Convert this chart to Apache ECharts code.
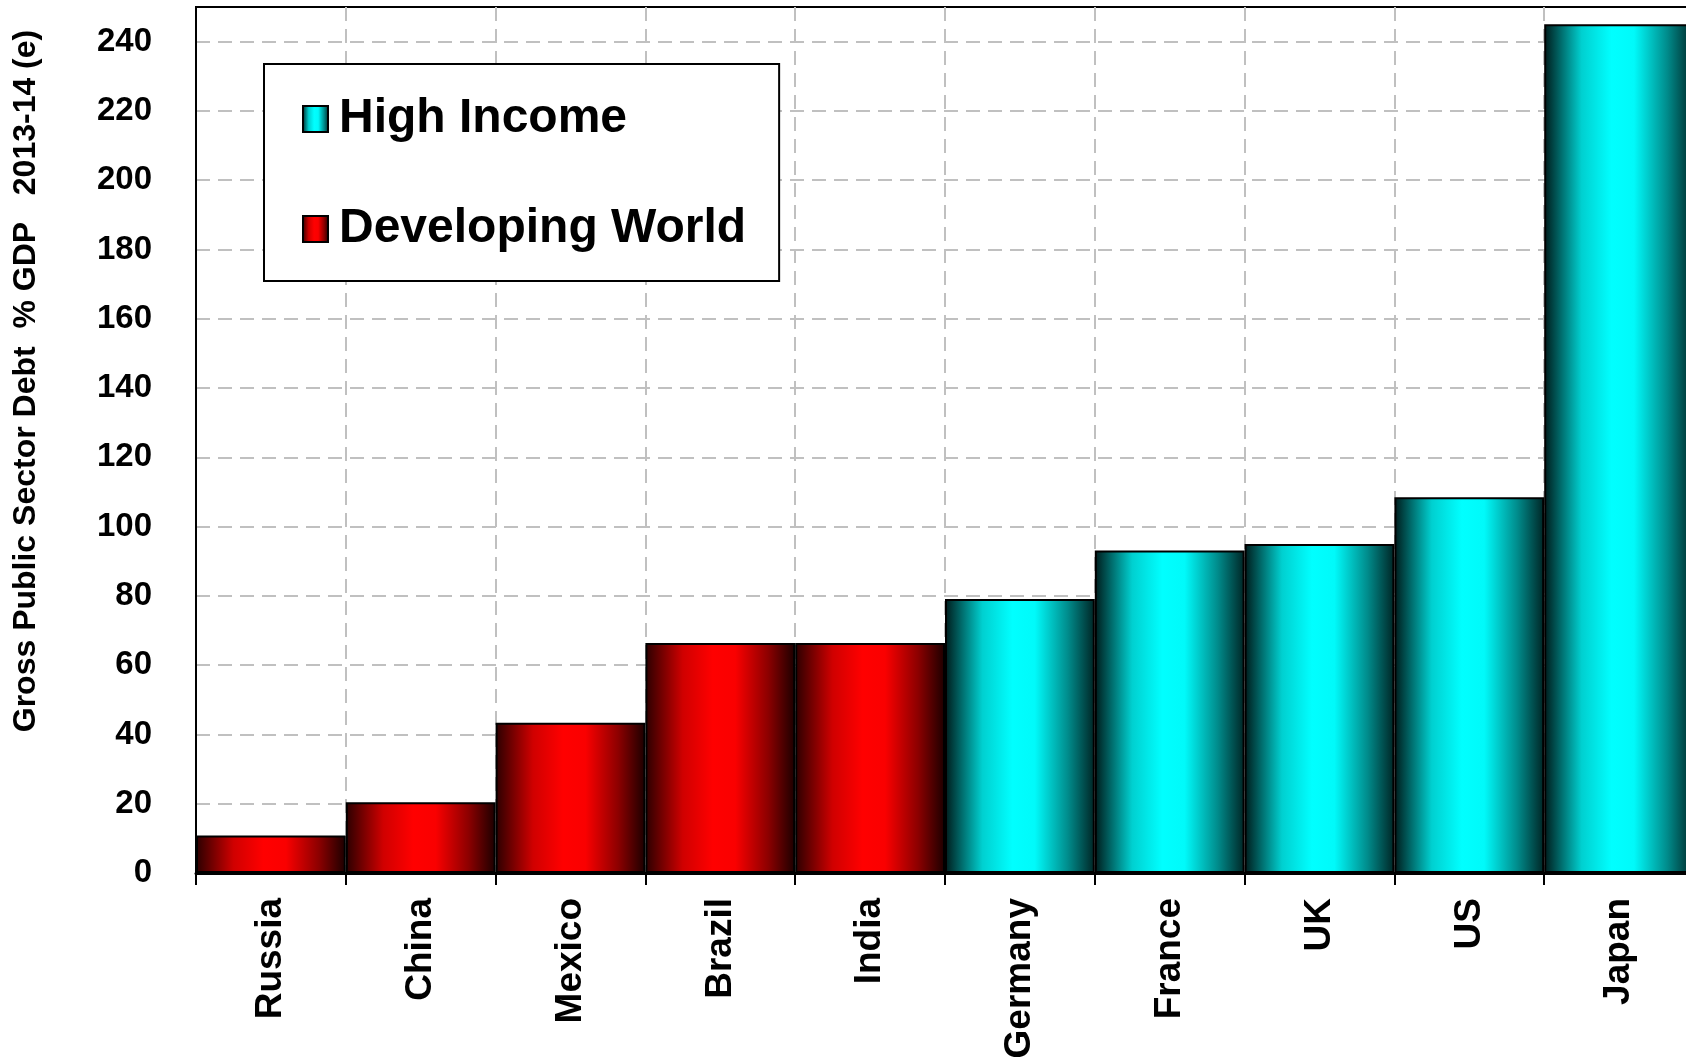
<!DOCTYPE html>
<html>
<head>
<meta charset="utf-8">
<script src="https://cdn.jsdelivr.net/npm/echarts@6/dist/echarts.min.js"></script>
<style>
html,body{margin:0;padding:0;background:#fff;}
#chart{width:1686px;height:1057px;}
</style>
</head>
<body>
<div id="chart"></div>
<script>
var categories = ['Russia','China','Mexico','Brazil','India','Germany','France','UK','US','Japan'];
var developingValues = [10.8, 20.4, 43.4, 66.4, 66.4, null, null, null, null, null];
var highIncomeValues = [null, null, null, null, null, 79.1, 93.1, 95.0, 108.5, 245];
var yTicks = [0, 20, 40, 60, 80, 100, 120, 140, 160, 180, 200, 220, 240];
var yAxisTitle = 'Gross Public Sector Debt  % GDP   2013-14 (e)';

var FONT = '"Liberation Sans", Arial, sans-serif';

var cyanGrad = new echarts.graphic.LinearGradient(0, 0, 1, 0, [
  {offset: 0, color: '#001a1a'},
  {offset: 0.25, color: '#00d0d0'},
  {offset: 0.45, color: '#00ffff'},
  {offset: 0.6, color: '#00fafa'},
  {offset: 0.82, color: '#008c8c'},
  {offset: 1, color: '#002424'}
]);
var redGrad = new echarts.graphic.LinearGradient(0, 0, 1, 0, [
  {offset: 0, color: '#2a0000'},
  {offset: 0.25, color: '#d00000'},
  {offset: 0.45, color: '#ff0000'},
  {offset: 0.6, color: '#fa0000'},
  {offset: 0.82, color: '#8c0000'},
  {offset: 1, color: '#1a0000'}
]);

var chart = echarts.init(document.getElementById('chart'), null, {renderer: 'canvas'});
chart.setOption({
  animation: false,
  backgroundColor: '#ffffff',
  grid: {
    left: 196, top: 7, right: -8, bottom: 184,
    containLabel: false,
    outerBoundsMode: 'none',
    show: true, borderColor: '#000', borderWidth: 2, backgroundColor: 'transparent'
  },
  legend: {
    orient: 'vertical',
    left: 264, top: 64,
    data: ['High Income', 'Developing World'],
    backgroundColor: '#fff',
    borderColor: '#000',
    borderWidth: 2,
    padding: [31, 33, 28, 38],
    itemGap: 62,
    itemWidth: 25,
    itemHeight: 26,
    icon: 'rect',
    textStyle: {
      fontFamily: FONT, fontWeight: 'bold', fontSize: 48, color: '#000',
      lineHeight: 46, padding: [0, 0, 0, 6]
    }
  },
  xAxis: {
    type: 'category',
    data: categories,
    boundaryGap: true,
    axisLine: {show: true, lineStyle: {color: '#000', width: 3}},
    axisTick: {show: true, length: 12, lineStyle: {color: '#000', width: 2}},
    axisLabel: {
      rotate: 90, margin: 25, interval: 0,
      fontFamily: FONT, fontWeight: 'bold', fontSize: 37, color: '#000'
    },
    splitLine: {show: true, interval: 0, showMinLine: false, showMaxLine: false,
      lineStyle: {color: '#c0c0c0', width: 2, type: [14, 8]}}
  },
  yAxis: {
    type: 'value',
    min: 0, max: 250, interval: 20,
    axisLine: {show: true, lineStyle: {color: '#000', width: 2}},
    axisTick: {show: false},
    axisLabel: {
      margin: 44,
      fontFamily: FONT, fontWeight: 'bold', fontSize: 33, color: '#000',
      formatter: function (v) { return yTicks.indexOf(v) >= 0 ? String(v) : ''; }
    },
    splitLine: {show: true, showMinLine: false, showMaxLine: false,
      lineStyle: {color: '#c0c0c0', width: 2, type: [14, 8]}}
  },
  graphic: [{
    type: 'text',
    x: 26, y: 381,
    rotation: Math.PI / 2,
    style: {
      text: yAxisTitle,
      font: 'bold 32px ' + FONT,
      fill: '#000',
      align: 'center',
      verticalAlign: 'middle'
    }
  }],
  series: [
    {
      name: 'Developing World',
      type: 'bar',
      stack: 'all',
      data: developingValues,
      barCategoryGap: '0%',
      barGap: '0%',
      itemStyle: {color: redGrad, borderColor: '#000', borderWidth: 2}
    },
    {
      name: 'High Income',
      type: 'bar',
      stack: 'all',
      data: highIncomeValues,
      barCategoryGap: '0%',
      barGap: '0%',
      itemStyle: {color: cyanGrad, borderColor: '#000', borderWidth: 2}
    }
  ]
});
</script>
</body>
</html>
